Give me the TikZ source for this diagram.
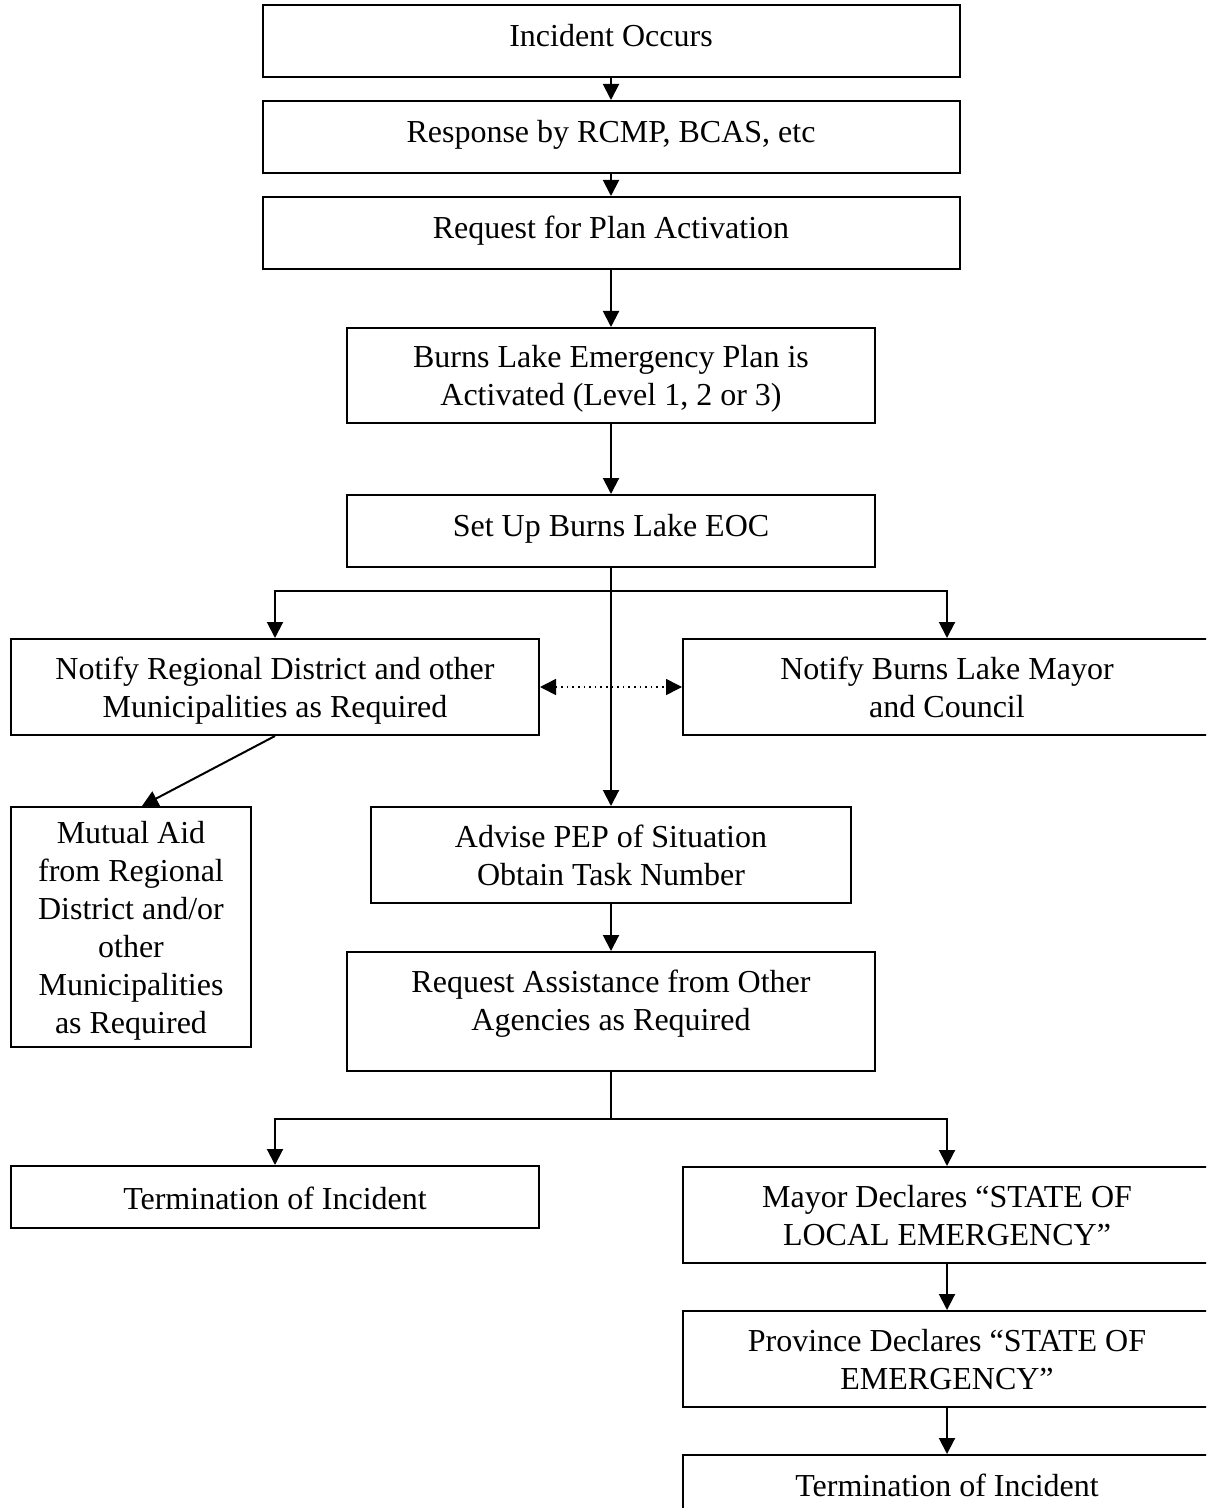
\documentclass[tikz,border=0pt]{standalone}
\usepackage{fontspec}
\setmainfont{Liberation Serif}
\usetikzlibrary{arrows.meta}
\begin{document}
\begin{tikzpicture}[x=0.5pt,y=-0.5pt,
  box/.style={draw,line width=1pt,align=center,inner sep=0pt,font=\fontsize{16}{19}\selectfont,text depth=0pt},
  onebox/.style={box,text height=13.3pt,text depth=7.7pt},
  wide/.style={minimum width=264pt},
  arr/.style={line width=1pt,-{Triangle[width=8pt,length=8pt]}},
  dotarr/.style={line width=0.8pt,dotted,{Triangle[width=8pt,length=8pt]}-{Triangle[width=8pt,length=8pt]}}]
% PAGE
\useasboundingbox (0,0) rectangle (1206,1508);
\clip (0,0) rectangle (1206,1508);
% MAIN COLUMN
\node[onebox,minimum width=348.5pt,minimum height=36pt] (occurs) at (611,41) {Incident Occurs};
\node[onebox,minimum width=348.5pt,minimum height=36pt] (response) at (611,137) {Response by RCMP, BCAS, etc};
\node[onebox,minimum width=348.5pt,minimum height=36pt] (request) at (611,233) {Request for Plan Activation};
\node[box,wide,minimum height=47.5pt] (activated) at (611,375.5) {Burns Lake Emergency Plan is\\Activated (Level 1, 2 or 3)};
\node[onebox,wide,minimum height=36pt] (eoc) at (611,531) {Set Up Burns Lake EOC};
% NOTIFICATIONS
\node[box,wide,minimum height=48pt] (notifyrd) at (275,687) {Notify Regional District and other\\Municipalities as Required};
\node[box,wide,minimum height=48pt] (notifymayor) at (947,687) {Notify Burns Lake Mayor\\and Council};
\node[box,minimum width=120pt,minimum height=120pt] (mutual) at (131,927) {Mutual Aid\\from Regional\\District and/or\\other\\Municipalities\\as Required};
% PEP AND ASSISTANCE
\node[box,minimum width=240pt,minimum height=48pt] (advise) at (611,855) {Advise PEP of Situation\\Obtain Task Number};
\node[box,wide,minimum height=59.5pt,text depth=11.5pt] (assist) at (611,1011.5) {Request Assistance from Other\\Agencies as Required};
% OUTCOMES
\node[box,wide,minimum height=31pt,text height=18.5pt,text depth=5.7pt] (termleft) at (275,1197) {Termination of Incident};
\node[box,wide,minimum height=48pt] (mayor) at (947,1215) {Mayor Declares “STATE OF\\LOCAL EMERGENCY”};
\node[box,wide,minimum height=48pt] (province) at (947,1359) {Province Declares “STATE OF\\EMERGENCY”};
\node[onebox,wide,minimum height=36pt] (termright) at (947,1491) {Termination of Incident};
% ARROWS
\draw[arr] (occurs.south) -- (response.north);
\draw[arr] (response.south) -- (request.north);
\draw[arr] (request.south) -- (activated.north);
\draw[arr] (activated.south) -- (eoc.north);
\coordinate (split1) at (611,591);
\draw[arr] (eoc.south) -- (advise.north);
\draw[arr] (split1) -| (notifyrd.north);
\draw[arr] (split1) -| (notifymayor.north);
\draw[dotarr] (notifyrd.east) -- (notifymayor.west);
\draw[arr] (notifyrd.south) -- ([xshift=5.5pt]mutual.north);
\draw[arr] (advise.south) -- (assist.north);
\coordinate (split2) at (611,1119);
\draw[line width=1pt] (assist.south) -- (split2);
\draw[arr] (split2) -| (termleft.north);
\draw[arr] (split2) -| (mayor.north);
\draw[arr] (mayor.south) -- (province.north);
\draw[arr] (province.south) -- (termright.north);
\end{tikzpicture}
\end{document}
